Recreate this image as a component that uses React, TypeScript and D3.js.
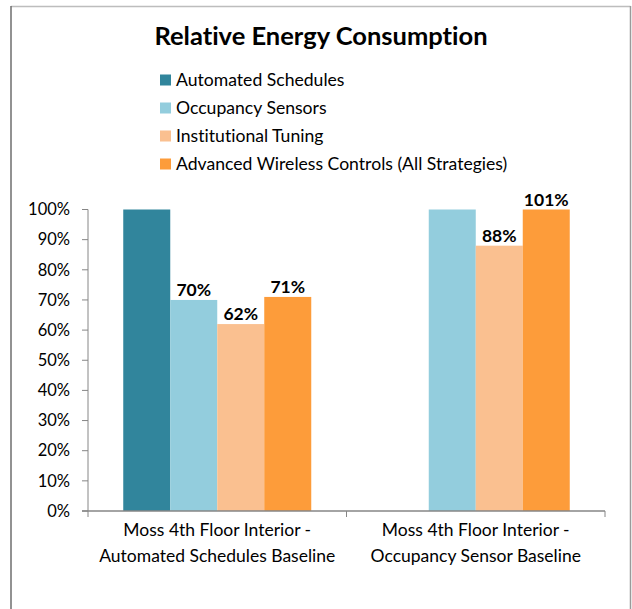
import React from "react";
import * as d3 from "d3";

const categories = [
  ["Moss 4th Floor Interior -", "Automated Schedules Baseline"],
  ["Moss 4th Floor Interior -", "Occupancy Sensor Baseline"],
];
const seriesNames = [
  "Automated Schedules",
  "Occupancy Sensors",
  "Institutional Tuning",
  "Advanced Wireless Controls (All Strategies)",
];
const seriesColors = ["#31859C", "#93CDDD", "#FAC090", "#FD9C3A"];
// values[category][series]; null = no bar
const values: (number | null)[][] = [
  [1.0, 0.7, 0.62, 0.71],
  [null, 1.0, 0.88, 1.01],
];
const showLabel: boolean[][] = [
  [false, true, true, true],
  [false, false, true, true],
];
const yTicks = [0, 0.1, 0.2, 0.3, 0.4, 0.5, 0.6, 0.7, 0.8, 0.9, 1.0];

const W = 632;
const H = 609;
const FONT = "Lato, 'Open Sans', sans-serif";

export default function App() {
  const left = 88;
  const right = 605;
  const top = 209.5;
  const bottom = 511;

  const y = d3.scaleLinear().domain([0, 1]).range([bottom, top]).clamp(true);
  const x0 = d3
    .scaleBand<number>()
    .domain(categories.map((_, i) => i))
    .range([left, right])
    .padding(0);
  const x1 = d3
    .scaleBand<number>()
    .domain(seriesNames.map((_, i) => i))
    .range([0, x0.bandwidth()])
    .paddingInner(0)
    .paddingOuter(0.75);
  const fmt = d3.format(".0%");
  const axisColor = "#868686";

  return (
    <div style={{ position: "fixed", left: 0, top: 0 }}>
      <svg
        width={W}
        height={H}
        style={{ display: "block", background: "#fff", fontVariantLigatures: "none" }}
        fontFamily={FONT}
      >
        {/* chart frame */}
        <line x1={11} y1={6.5} x2={630.5} y2={6.5} stroke="#BDBDBD" strokeWidth={1.5} />
        <line x1={11} y1={6} x2={11} y2={H} stroke="#6E6E6E" strokeWidth={1.5} />
        <line x1={630.5} y1={6} x2={630.5} y2={H} stroke="#9A9A9A" strokeWidth={1.5} />

        {/* title */}
        <text x={321} y={45} textAnchor="middle" fontSize={25.5} fontWeight={700} fill="#000">
          Relative Energy Consumption
        </text>

        {/* legend */}
        {seriesNames.map((name, i) => {
          const cy = 80 + i * 28;
          return (
            <g key={name}>
              <rect x={160} y={cy - 5.5} width={11} height={11} fill={seriesColors[i]} />
              <text x={176} y={cy} dy="0.35em" fontSize={17.6} fill="#000">
                {name}
              </text>
            </g>
          );
        })}

        {/* bars */}
        {values.map((row, ci) =>
          row.map((v, si) => {
            if (v === null) return null;
            const bx = (x0(ci) as number) + (x1(si) as number);
            const bw = x1.bandwidth();
            const by = y(v);
            return (
              <g key={`${ci}-${si}`}>
                <rect x={bx} y={by} width={bw} height={bottom - by} fill={seriesColors[si]} />
                {showLabel[ci][si] && (
                  <text
                    x={bx + bw / 2}
                    y={by - 4}
                    textAnchor="middle"
                    fontSize={17.5}
                    fontWeight={700}
                    fill="#000"
                  >
                    {fmt(v)}
                  </text>
                )}
              </g>
            );
          })
        )}

        {/* y axis */}
        <line x1={left} y1={top} x2={left} y2={bottom} stroke={axisColor} strokeWidth={1} />
        {yTicks.map((t) => (
          <g key={t}>
            <line x1={82} x2={left} y1={y(t)} y2={y(t)} stroke={axisColor} strokeWidth={1} />
            <text x={70} y={y(t)} dy="0.35em" textAnchor="end" fontSize={16.5} fill="#000">
              {fmt(t)}
            </text>
          </g>
        ))}

        {/* x axis */}
        <line x1={82} y1={bottom} x2={right} y2={bottom} stroke={axisColor} strokeWidth={1.5} />
        {[...categories.map((_, i) => x0(i) as number), right].map((tx, i) => (
          <line key={i} x1={tx} x2={tx} y1={bottom} y2={bottom + 6} stroke={axisColor} strokeWidth={1} />
        ))}
        {categories.map((lines, ci) => {
          const cx = (x0(ci) as number) + x0.bandwidth() / 2;
          return (
            <text key={ci} x={cx} textAnchor="middle" fontSize={17.5} fill="#000">
              {lines.map((l, li) => (
                <tspan key={li} x={cx} y={536 + li * 26}>
                  {l}
                </tspan>
              ))}
            </text>
          );
        })}
      </svg>
    </div>
  );
}
